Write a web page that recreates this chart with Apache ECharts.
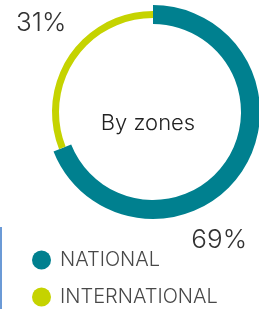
<!DOCTYPE html>
<html lang="en">
<head>
    <meta charset="UTF-8">
    <script src="https://cdn.jsdelivr.net/npm/echarts@6/dist/echarts.min.js"></script>
    <title>By zones</title>
    <style>
        html, body { margin: 0; padding: 0; background: #fff; }
    </style>
</head>
<body>
<div id="main" style="width: 259px;height:309px;"></div>
<script type="text/javascript">
    // data
    var zones = ['NATIONAL', 'INTERNATIONAL'];
    var shares = [69, 31];
    var zoneColors = ['#00808f', '#c5d300'];

    var FONT = 'Inter, "Open Sans", sans-serif';
    var myChart = echarts.init(document.getElementById('main'));

    // each ring only shows its own zone, the other slice is left empty
    function ringData(keep) {
        return zones.map(function (name, i) {
            return {
                name: name,
                value: shares[i],
                itemStyle: { color: i === keep ? zoneColors[i] : 'rgba(0,0,0,0)' }
            };
        });
    }

    // one legend per zone, stacked
    var legends = zones.map(function (name, i) {
        return {
            left: 32,
            top: 250 + i * 37,
            padding: 0,
            icon: 'circle',
            itemWidth: 19,
            itemHeight: 19,
            selectedMode: false,
            textStyle: {
                fontFamily: FONT,
                fontSize: 20,
                fontWeight: 300,
                color: '#484848',
                padding: [2, 0, 0, 4]
            },
            data: [{ name: name, itemStyle: { color: zoneColors[i] } }]
        };
    });

    var option = {
        animation: false,
        legend: legends,
        graphic: [
            {
                type: 'text', x: 148, y: 123,
                style: {
                    text: 'By zones',
                    font: '300 22px ' + FONT, fill: '#222',
                    textAlign: 'center', textVerticalAlign: 'middle'
                }
            },
            {
                type: 'text', x: 16, y: 23,
                style: {
                    text: shares[1] + '%',
                    font: '300 26px ' + FONT, fill: '#333',
                    textAlign: 'left', textVerticalAlign: 'middle'
                }
            },
            {
                type: 'text', x: 247, y: 240,
                style: {
                    text: shares[0] + '%',
                    font: '300 26px ' + FONT, fill: '#333',
                    textAlign: 'right', textVerticalAlign: 'middle'
                }
            },
            {
                type: 'rect',
                shape: { x: 0, y: 227, width: 2, height: 82 },
                style: { fill: '#6b9ad6' }
            }
        ],
        series: [
            {
                type: 'pie',
                center: [153, 112],
                radius: [88, 107],
                startAngle: 90,
                clockwise: true,
                silent: true,
                label: { show: false },
                labelLine: { show: false },
                data: ringData(0)
            },
            {
                type: 'pie',
                center: [153, 112],
                radius: [94, 101],
                startAngle: 90,
                clockwise: true,
                silent: true,
                label: { show: false },
                labelLine: { show: false },
                data: ringData(1)
            }
        ]
    };

    myChart.setOption(option);
</script>
</body>
</html>
